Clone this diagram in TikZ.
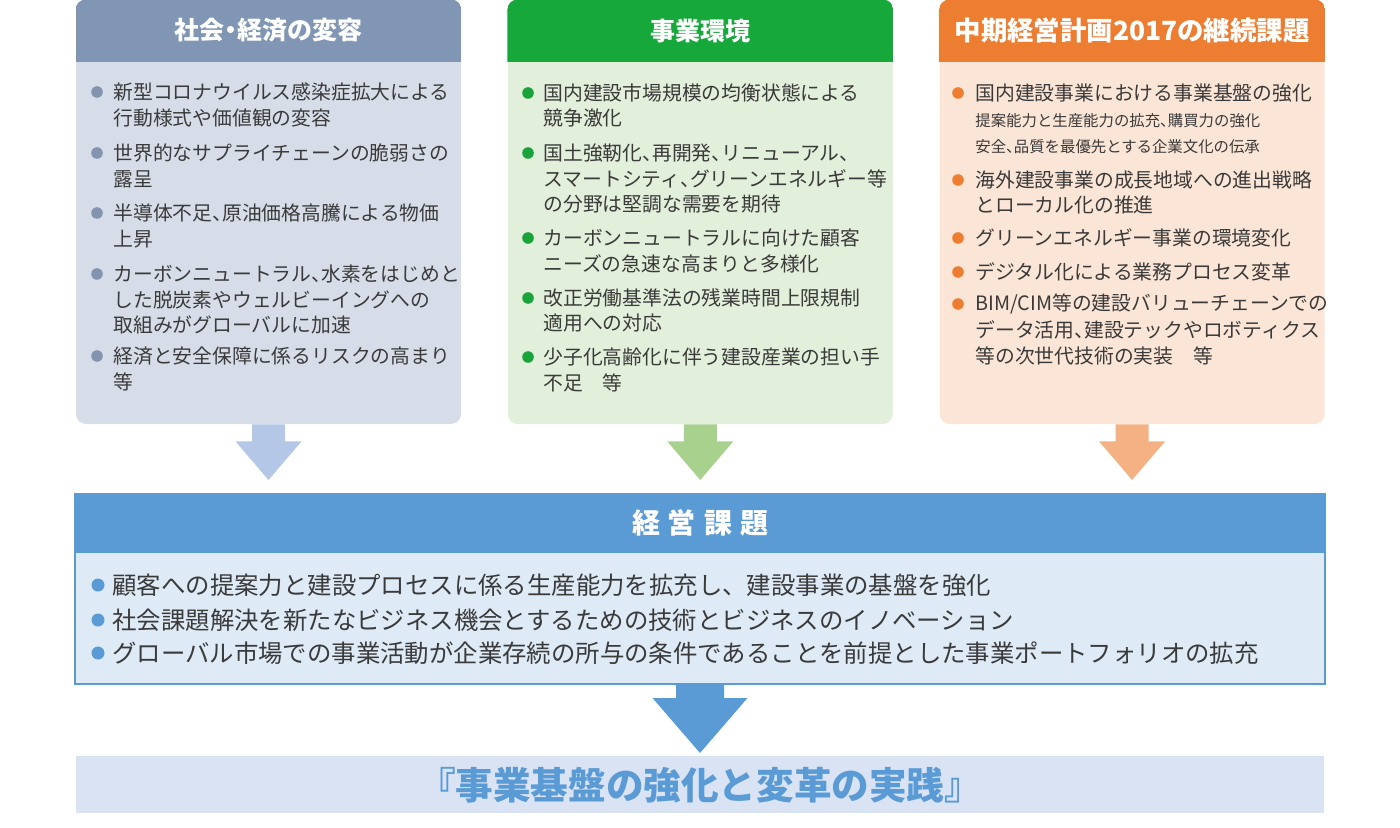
\documentclass[tikz,border=0pt]{standalone}
\usepackage{fontspec}
\setmainfont{Noto Sans CJK JP}
\usetikzlibrary{positioning,calc}
\definecolor{txt}{HTML}{3A3A3A}
\definecolor{lhead}{HTML}{8096B4}
\definecolor{lbody}{HTML}{D7DDE8}
\definecolor{lbul}{HTML}{8394B0}
\definecolor{larr}{HTML}{B4C7E7}
\definecolor{ghead}{HTML}{16A83A}
\definecolor{gbody}{HTML}{E2EFDA}
\definecolor{gbul}{HTML}{1AA33A}
\definecolor{garr}{HTML}{A9D18E}
\definecolor{ohead}{HTML}{ED7D31}
\definecolor{obody}{HTML}{FBE5D6}
\definecolor{obul}{HTML}{ED7D31}
\definecolor{oarr}{HTML}{F4B183}
\definecolor{bhead}{HTML}{5B9BD5}
\definecolor{bbody}{HTML}{DEEAF6}
\definecolor{banner}{HTML}{DAE3F3}
\newcommand{\tou}{\makebox[0.5em][l]{、}}
\newcommand{\nakaguro}{\makebox[0.5em][c]{・}}
\tikzset{panel/.style={rounded corners=5pt,minimum width=192.5pt,minimum height=212pt,inner sep=0pt}}
\tikzset{title/.style={text=white,inner sep=0pt,font=\bfseries\fontsize{12.5}{15}\selectfont}}
\tikzset{item/.style={anchor=west,inner sep=0pt,text=txt,font=\fontsize{9.9}{12}\selectfont}}
\tikzset{subitem/.style={item,font=\fontsize{7.7}{9}\selectfont}}
\tikzset{bigitem/.style={item,font=\fontsize{12.2}{14}\selectfont}}

\begin{document}
\begin{tikzpicture}[x=0.5pt,y=-0.5pt]
  \useasboundingbox (0,0) rectangle (1400,828);
  % three panels
  \node[panel,fill=lbody] (soc) at (268.5,212) {};
  \node[panel,fill=gbody,right=23pt of soc] (env) {};
  \node[panel,fill=obody,right=23pt of env] (plan) {};
  \foreach \p/\h in {soc/lhead,env/ghead,plan/ohead}{
    \begin{scope}
      \clip[rounded corners=5pt] (\p.south west) rectangle (\p.north east);
      \fill[\h] (\p.north west) rectangle ($(\p.north east)+(0,62)$);
    \end{scope}
  }
  \node[title] (soct) at ($(soc.north)+(0,31)$) {社会\nakaguro 経済の変容};
  \node[title] (envt) at ($(env.north)+(0,31)$) {事業環境};
  \node[title,font=\bfseries\fontsize{13.2}{15}\selectfont] (plant) at ($(plan.north)+(0,31)$) {中期経営計画2017の継続課題};

  \foreach \yy in {92,153,213,274,356} \fill[lbul] (97,\yy) circle (2.9pt);
  \foreach \yy/\t [count=\i] in {92/新型コロナウイルス感染症拡大による,118/行動様式や価値観の変容,
      153/世界的なサプライチェーンの脆弱さの,179/露呈,213/半導体不足\tou 原油価格高騰による物価,239/上昇,
      274/カーボンニュートラル\tou 水素をはじめと,300/した脱炭素やウェルビーイングへの,325/取組みがグローバルに加速,
      356/経済と安全保障に係るリスクの高まり,382/等}
    \node[item] (soc\i) at (113,\yy) {\t};

  \foreach \yy in {93,153,238,298,357} \fill[gbul] (528,\yy) circle (2.9pt);
  \foreach \yy/\t [count=\i] in {93/国内建設市場規模の均衡状態による,118/競争激化,
      153/国土強靭化\tou 再開発\tou リニューアル\tou,179/スマートシティ\tou グリーンエネルギー等,204/の分野は堅調な需要を期待,
      238/カーボンニュートラルに向けた顧客,264/ニーズの急速な高まりと多様化,
      298/改正労働基準法の残業時間上限規制,323/適用への対応,
      357/少子化高齢化に伴う建設産業の担い手,383/不足　等}
    \node[item] (env\i) at (543,\yy) {\t};

  \foreach \yy in {93,180,238,272,304} \fill[obul] (958,\yy) circle (2.9pt);
  \foreach \yy/\t [count=\i] in {93/国内建設事業における事業基盤の強化,
      180/海外建設事業の成長地域への進出戦略,205/とローカル化の推進,
      238/グリーンエネルギー事業の環境変化,272/デジタル化による業務プロセス変革,
      304/{BIM/CIM等の建設バリューチェーンでの},330/データ活用\tou 建設テックやロボティクス,356/等の次世代技術の実装　等}
    \node[item] (plan\i) at (975,\yy) {\t};
  \node[subitem] (plans1) at (975,121) {提案能力と生産能力の拡充\tou 購買力の強化};
  \node[subitem] (plans2) at (975,147) {安全\tou 品質を最優先とする企業文化の伝承};

  % management issues
  \node[draw=bhead,line width=1pt,fill=bbody,minimum width=625pt,minimum height=95pt,inner sep=0pt] (kadai) at (700,589) {};
  \fill[bhead] (kadai.north west) rectangle ($(kadai.north east)+(0,60)$);
  \node[title,font=\bfseries\fontsize{14}{16}\selectfont] (kadait) at ($(kadai.north)+(0,30)$) {経\hspace{4pt}営\hspace{4pt}課\hspace{4pt}題};
  \foreach \yy/\t [count=\i] in {585/顧客への提案力と建設プロセスに係る生産能力を拡充し、建設事業の基盤を強化,
      620/社会課題解決を新たなビジネス機会とするための技術とビジネスのイノベーション,
      653/グローバル市場での事業活動が企業存続の所与の条件であることを前提とした事業ポートフォリオの拡充}{
    \fill[bhead] (98,\yy) circle (3.25pt);
    \node[bigitem] (kadai\i) at (112,\yy) {\t};
  }

  \foreach \p/\c in {soc/larr,env/garr,plan/oarr}
    \fill[\c] ($(\p.south)+(-16.5,0)$) -- ($(\p.south)+(16.5,0)$) -- ($(\p.south)+(16.5,17)$)
      -- ($(\p.south)+(33,17)$) -- ($(\p.south |- kadai.north)+(0,-13)$)
      -- ($(\p.south)+(-33,17)$) -- ($(\p.south)+(-16.5,17)$) -- cycle;

  % goal
  \node[fill=banner,minimum width=624pt,minimum height=28.5pt,inner sep=0pt,below=35.5pt of kadai,
    text=bhead,font=\bfseries\fontsize{18.8}{21}\selectfont] (goal) {『事業基盤の強化と変革の実践』};
  \fill[bhead] ($(kadai.south)+(-24,0)$) -- ($(kadai.south)+(24,0)$) -- ($(kadai.south)+(24,13)$)
    -- ($(kadai.south)+(47.5,13)$) -- ($(goal.north)+(0,-3)$)
    -- ($(kadai.south)+(-47.5,13)$) -- ($(kadai.south)+(-24,13)$) -- cycle;
\end{tikzpicture}
\end{document}
